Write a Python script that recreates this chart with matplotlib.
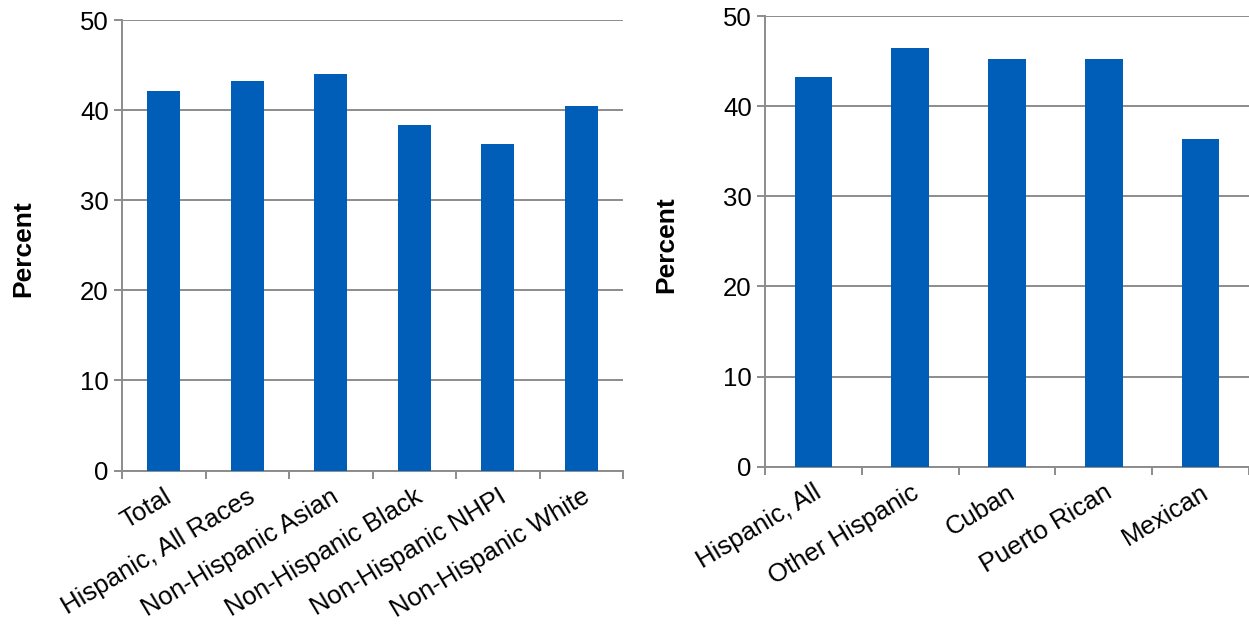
import matplotlib.pyplot as plt
import numpy as np

# data
race_labels = ['Total', 'Hispanic, All Races', 'Non-Hispanic Asian',
               'Non-Hispanic Black', 'Non-Hispanic NHPI', 'Non-Hispanic White']
race_values = [42.1, 43.2, 44.0, 38.4, 36.2, 40.5]

hisp_labels = ['Hispanic, All', 'Other Hispanic', 'Cuban', 'Puerto Rican', 'Mexican']
hisp_values = [43.2, 46.5, 45.2, 45.2, 36.3]

y_ticks = [0, 10, 20, 30, 40, 50]

BAR = '#005EB8'
GRID = '#8C8C8C'


def draw(ax, labels, values, ylab_x):
    x = np.arange(len(labels))
    ax.bar(x, values, width=0.39, color=BAR, zorder=3)
    ax.set_xlim(-0.5, len(labels) - 0.5)
    ax.set_ylim(0, 50)
    ax.set_yticks(y_ticks)
    ax.yaxis.grid(True, color=GRID, linewidth=1.4, zorder=0)
    ax.set_xticks(x)
    ax.set_xticklabels(labels, rotation=31, ha='right', rotation_mode='anchor')
    ax.tick_params(axis='x', length=0, labelsize=18.5, pad=10)
    # category boundary ticks like excel
    ax.set_xticks(np.arange(len(labels) + 1) - 0.5, minor=True)
    ax.tick_params(axis='x', which='minor', length=5.5, width=1.4, color=GRID)
    ax.tick_params(axis='y', length=5.5, width=1.4, color=GRID, labelsize=18.5, pad=4)
    for s in ['top', 'right']:
        ax.spines[s].set_visible(False)
    for s in ['left', 'bottom']:
        ax.spines[s].set_color(GRID)
        ax.spines[s].set_linewidth(1.4)
    ax.set_ylabel('Percent', fontsize=19, fontweight='bold', va='center')
    ax.yaxis.set_label_coords(ylab_x, 0.493)


def main():
    plt.rcParams['font.family'] = ['Liberation Sans', 'DejaVu Sans']
    fig = plt.figure(figsize=(12.49, 6.27), dpi=100)

    ax1 = fig.add_axes([122 / 1249, 1 - 470.5 / 627, 501 / 1249, 450.5 / 627])
    draw(ax1, race_labels, race_values, -0.198)

    ax2 = fig.add_axes([765 / 1249, 1 - 466.7 / 627, 484 / 1249, 450.7 / 627])
    draw(ax2, hisp_labels, hisp_values, -0.204)

    fig.savefig('out.png', dpi=100)


if __name__ == '__main__':
    main()
